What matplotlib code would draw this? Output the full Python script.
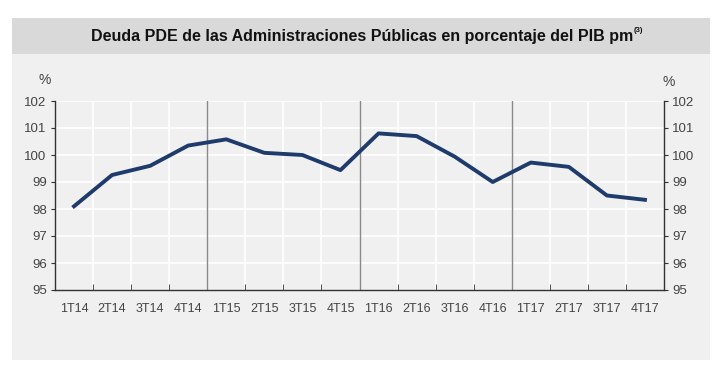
import matplotlib
matplotlib.use("Agg")
import matplotlib.pyplot as plt
import matplotlib.patches as mpatches

quarters = ["1T14", "2T14", "3T14", "4T14", "1T15", "2T15", "3T15", "4T15",
            "1T16", "2T16", "3T16", "4T16", "1T17", "2T17", "3T17", "4T17"]
deuda_pib = [98.1, 99.26, 99.6, 100.35, 100.58, 100.08, 100.0, 99.44,
             100.8, 100.7, 99.94, 99.0, 99.72, 99.56, 98.5, 98.34]
y_ticks = [95, 96, 97, 98, 99, 100, 101, 102]

plt.rcParams["font.family"] = ["Liberation Sans", "DejaVu Sans"]

W, H = 720, 369
fig = plt.figure(figsize=(W / 100, H / 100), dpi=100)
fig.patch.set_facecolor("white")

# background panels (pixel coords -> figure fraction)
def px_rect(x0, y0, x1, y1, color):
    fig.patches.append(mpatches.Rectangle((x0 / W, 1 - y1 / H), (x1 - x0) / W, (y1 - y0) / H,
                                          transform=fig.transFigure, facecolor=color,
                                          edgecolor="none", zorder=-10))

px_rect(12, 18, 710, 54, "#d9d9d9")
px_rect(12, 54, 710, 360, "#f0f0f0")

title = fig.text(362 / W, 1 - 36 / H, "Deuda PDE de las Administraciones Públicas en porcentaje del PIB pm",
                 ha="center", va="center", fontsize=11.5, fontweight="bold", color="#111111")
fig.canvas.draw()
bb = title.get_window_extent()
fig.text(bb.x1 / W + 0.001, 1 - 31 / H, "(3)", ha="left", va="center", fontsize=5.5,
         fontweight="bold", color="#111111")

ax = fig.add_axes([55 / W, 1 - 290 / H, 609 / W, 189 / H])
ax.set_facecolor("#f0f0f0")

n = len(quarters)
xs = list(range(n))
ax.set_xlim(-0.5, n - 0.5)
ax.set_ylim(95, 102)

# grid
for y in y_ticks[1:]:
    ax.axhline(y, color="white", lw=1.2, zorder=1)
for i in range(1, n):
    if i % 4 == 0:
        ax.axvline(i - 0.5, color="#8a8a8a", lw=1.0, zorder=2)
    else:
        ax.axvline(i - 0.5, color="white", lw=1.2, zorder=1)

ax.plot(xs, deuda_pib, color="#1f3b6b", lw=2.8, zorder=3, solid_joinstyle="round")

ax.set_xticks(xs)
ax.set_xticklabels(quarters)
ax.set_xticks([i - 0.5 for i in range(n + 1)], minor=True)
ax.tick_params(axis="x", which="major", length=0, pad=9, labelsize=9, colors="#444444")
ax.tick_params(axis="x", which="minor", direction="in", length=4, color="#333333")

ax.set_yticks(y_ticks)
ax.tick_params(axis="y", direction="out", length=3, labelsize=9.5, colors="#444444",
               left=True, right=True, labelleft=True, labelright=True, pad=3)
ax.tick_params(axis="y", color="#333333")

for s in ["top"]:
    ax.spines[s].set_visible(False)
for s in ["left", "right", "bottom"]:
    ax.spines[s].set_color("#333333")
    ax.spines[s].set_linewidth(1.0)

fig.text(45 / W, 1 - 80 / H, "%", ha="center", va="center", fontsize=10, color="#444444")
fig.text(669 / W, 1 - 82 / H, "%", ha="center", va="center", fontsize=10, color="#444444")

fig.savefig("out.png", dpi=100, facecolor="white")
